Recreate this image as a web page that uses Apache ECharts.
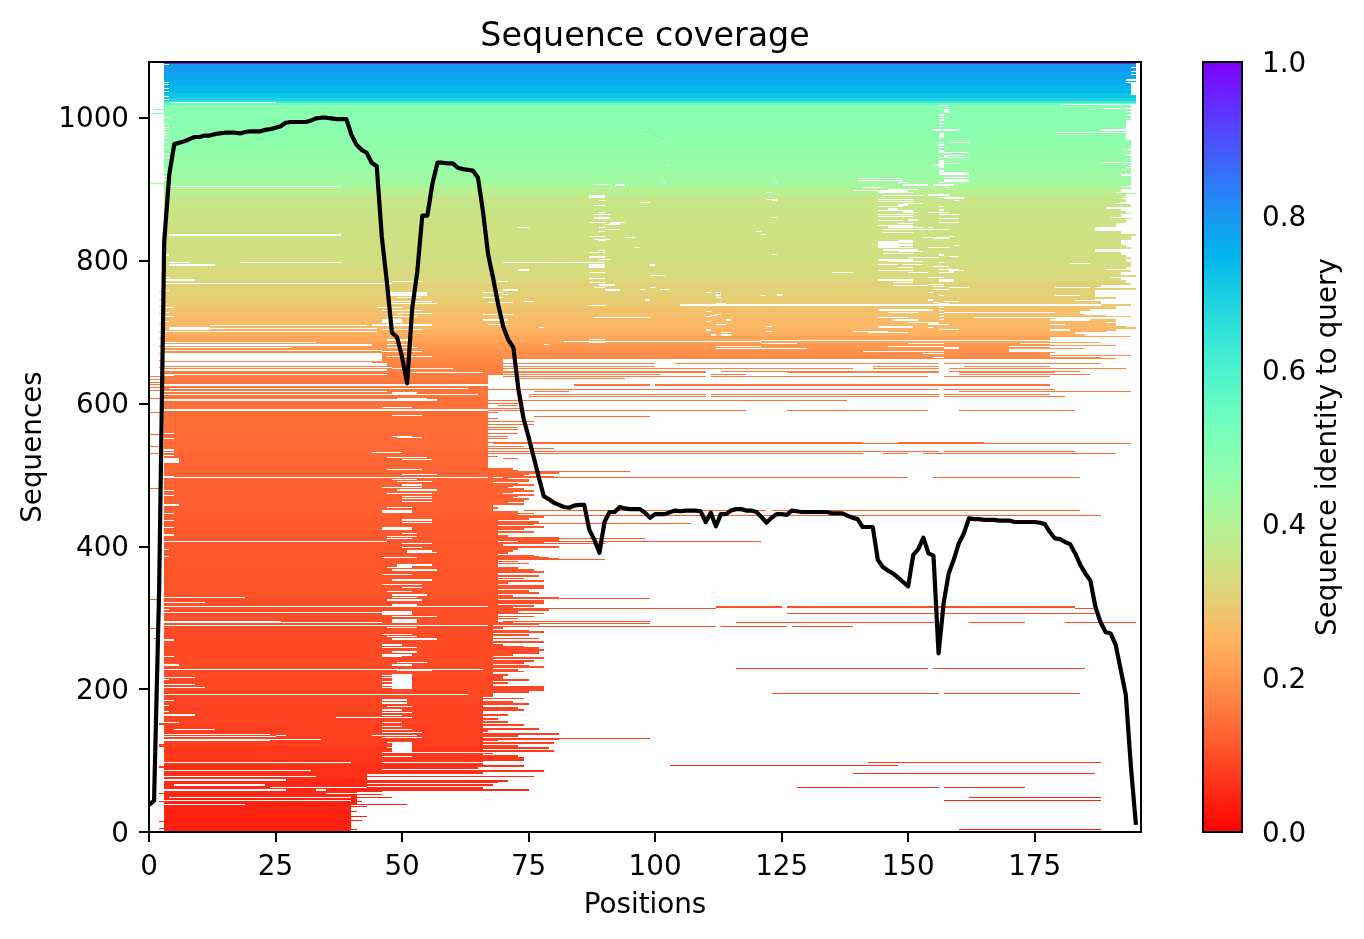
<!DOCTYPE html>
<html><head><meta charset="utf-8">
<style>html,body{margin:0;background:#fff}#c{width:1364px;height:939px}</style>
<script src="https://cdn.jsdelivr.net/npm/echarts@6/dist/echarts.min.js"></script></head>
<body><div id="c"></div>
<script>
const xTicks=[0,25,50,75,100,125,150,175];
const yTicks=[0,200,400,600,800,1000];
const barTicks=[0,0.2,0.4,0.6,0.8,1];
const rainbowStops=['#ff0000','#ff2814','#ff4f28','#ff743b','#ff964f','#ffb462','#e6ce74','#cce385','#b3f296','#99fca6','#80ffb4','#66fcc2','#4df2ce','#33e3da','#1acee3','#00b4ec','#1a96f2','#3374f8','#4d4ffc','#6628fe','#8000ff'];
// coverage curve: non-gap count at each position 0..195
const coverage=[38,44,338,826,920,963,965,967,970,973,973,975,975,977,978,979,979,979,978,980,981,981,981,983,984,986,988,993,994,994,994,994,996,999,1000,1000,999,998,998,998,976,962,955,951,937,932,833,770,699,693,665,628,733,784,863,863,908,937,937,936,936,930,928,927,926,916,868,809,775,738,707,689,678,619,579,553,525,497,470,466,461,458,455,454,457,458,458,423,409,391,434,448,448,455,453,452,452,452,447,440,445,445,445,448,450,449,450,450,450,449,434,447,428,445,445,450,452,452,450,450,448,441,433,440,445,445,444,450,449,448,448,448,448,448,448,446,446,446,443,440,438,427,427,427,381,371,366,362,356,350,344,388,396,412,390,387,250,320,362,381,404,418,439,438,438,437,437,437,436,436,436,434,434,434,434,434,433,431,420,411,410,406,403,390,374,362,352,315,294,280,278,262,227,192,92,10];
// identity of sequences: [lowest row of the band, identity]
const rowIdentity=[[0,.04],[25,.045],[50,.05],[75,.06],[95,.07],[120,.08],[150,.085],[180,.09],[220,.095],[280,.1],[330,.105],[370,.11],[410,.115],[440,.12],[470,.125],[500,.13],[530,.135],[560,.14],[590,.145],[610,.15],[630,.16],[645,.17],[655,.18],[665,.19],[675,.205],[685,.225],[695,.245],[705,.26],[720,.275],[735,.295],[750,.31],[770,.325],[790,.34],[820,.345],[850,.35],[870,.36],[890,.385],[900,.41],[905,.435],[915,.445],[930,.455],[945,.465],[960,.472],[975,.478],[990,.482],[1005,.485],[1018,.55],[1021,.63],[1024,.69],[1028,.72],[1035,.745],[1045,.76],[1055,.775],[1065,.79],[1076,.96]];
// solid blocks: [rowLow,rowHigh,xStart,xEnd]
const solidBlocks=[[1020,1078,3,195],[905,1020,3,194],[745,905,3,187],[662,745,3,178],[640,662,3,70],[510,640,3,67],[450,510,3,68],[437,450,3,73],[295,437,3,69],[190,295,3,68],[98,190,3,66],[85,98,3,46],[60,85,3,43],[40,60,3,41],[0,40,3,40]];
// right-hand ends of the rows beyond the blocks: [row,xEnd]
const upperEnds=[[694,194],[695,185],[697,183],[700,189],[702,191],[705,195],[707,193],[709,191],[712,189],[714,191],[718,179],[721,194],[722,189],[724,185],[725,184],[728,184],[730,186],[732,191],[735,191],[737,194],[739,188],[741,188],[744,183],[745,187],[747,191],[749,187],[752,187],[754,183],[756,184],[759,195],[761,184],[763,188],[766,194],[768,193],[770,193],[773,192],[775,190],[777,195],[780,192],[782,192],[784,194],[787,189],[789,193],[791,194],[794,194],[796,194],[798,193],[801,193],[803,194],[805,193],[808,192],[810,192],[812,187],[815,187],[817,194],[819,193],[822,192],[824,192],[826,192],[829,194],[831,194],[833,194],[835,195],[837,192],[839,192],[841,187],[844,187],[846,187],[848,191],[851,191],[853,193],[855,193],[858,194],[860,190],[862,192],[865,194],[867,193],[869,192],[872,189],[874,189],[876,194],[879,191],[881,192],[883,193],[886,192],[888,193],[890,193],[893,195],[895,191],[897,192],[900,194],[903,192]];
const coreEnds=[[58,75],[61,66],[65,68],[69,69],[71,71],[77,76],[82,66],[85,78],[89,65],[92,74],[94,66],[100,74],[103,74],[106,73],[109,68],[113,80],[117,79],[120,73],[124,80],[128,69],[129,81],[134,73],[136,81],[141,67],[143,77],[144,69],[149,74],[153,71],[157,69],[163,71],[167,66],[170,74],[173,73],[178,75],[181,72],[186,74],[189,67],[195,75],[198,78],[201,78],[203,78],[205,68],[208,71],[212,75],[213,70],[216,70],[219,71],[224,74],[226,73],[230,78],[232,75],[236,74],[239,76],[243,78],[247,72],[250,77],[252,77],[254,78],[257,77],[259,74],[261,70],[265,78],[270,77],[275,75],[279,78],[281,75],[285,70],[287,74],[290,77],[292,72],[298,73],[301,76],[305,78],[307,73],[310,79],[313,72],[316,76],[320,78],[323,78],[327,81],[330,72],[334,77],[337,75],[341,78],[344,78],[348,71],[351,78],[354,74],[358,77],[363,78],[366,76],[369,73],[375,75],[378,73],[381,81],[383,79],[385,77],[386,76],[390,71],[393,72],[395,73],[398,81],[401,70],[404,78],[408,81],[411,81],[414,71],[419,76],[423,74],[426,78],[430,76],[433,77],[437,75],[440,78],[445,76],[453,69],[458,74],[461,71],[463,74],[465,75],[467,72],[469,73],[471,76],[473,70],[475,72],[477,76],[479,74],[481,71],[483,72],[485,76],[487,73],[490,75],[492,75],[494,71],[497,80],[498,74],[500,75],[502,81],[503,70],[505,73],[507,72]];
// single sequences outside the blocks: [row,xStart,xEnd,rows]
const looseLines=[[685,178,188],[681,178,191],[676,178,185],[671,178,179],[667,178,194],[664,178,188],[662,178,191],
[656,70,100],[656,104,156],[656,157,188],[652,70,100],[652,143,156],[652,161,178],[649,70,139],[649,143,156],[649,158,193],
[645,70,110],[645,113,156],[645,158,184],[643,70,110],[643,126,156],[643,160,179],[640,70,101],[640,111,118],[640,160,186],[637,70,110],[637,111,154],[637,157,178],[635,73,94],
[625,84,99,2],[625,100,178,2],[619,67,156],[619,157,179],[616,76,83],[616,160,194],[612,75,110],[612,111,156],[612,157,178],[609,75,110],[609,111,156],[609,157,181],[604,67,138],
[600,67,74],[597,69,73],[593,67,74],[590,67,118],[590,126,154],[590,160,183],[587,67,69],[582,76,99],[578,67,69,2],[574,67,76],[570,67,76],[566,67,73],[563,67,73],[558,67,73],[553,67,71],[550,67,71],
[545,67,141],[545,148,165],[543,68,194],[540,67,74],[536,67,80],[533,67,156],[533,157,183],[529,67,141],[529,145,150],[529,153,191],[525,67,69],[522,70,73],[518,67,71],[511,67,73],
[505,70,95],[496,70,150],[496,155,184],[450,74,122],[450,123,184],[443,73,188],[432,73,107],[411,73,98],[406,73,121],[406,90,103,2],[404,73,90],[381,74,90],
[327,70,99],[314,112,125,2],[314,126,183,2],[313,70,112],[313,183,187],[306,126,187],[295,70,99],[293,116,156],[293,162,173],[293,181,195],[292,70,99],[288,70,112],[288,113,126],[288,127,139],
[228,116,154],[228,155,185],[193,123,156],[193,157,184],[137,66,80],[130,66,99],
[97,142,188],[93,103,148],[81,139,187],[62,128,156],[62,157,173],[59,41,75],[56,41,46],[52,41,46],[48,41,48],[48,162,188],[44,157,188],[42,40,42],[38,40,51],[35,40,43],[28,40,41],[21,40,43],[16,40,42],[3,40,41],[3,160,188],
[1006,0,3],[1011,1,3],[907,0,3],[637,0,3],[633,0,3],[629,0,3],[626,0,3],[622,0,3],[618,0,3],[607,0,3],[587,0,3],[556,0,3],[540,0,3],[530,0,3],[480,0,2],[325,0,2],[284,0,2],[271,1,2],[53,2,3],[43,2,3],[14,2,3],[5,2,3],[757,2,3],[745,2,3],[735,2,3],[725,2,3],[712,2,3],[700,2,3],[690,2,3],[680,2,3],[670,2,3],[660,2,3],[650,2,3],[150,2,3,3],[120,2,3,3],[90,2,3,3]];
// holes inside the blocks: [row,xStart,xEnd,rows]
const holes=[[1021,4,25],[1074,3,4],[1049,3,4],[1046,3,4],[1040,3,4],[1036,3,4],[1029,3,4],[1025,3,4],[1000,3,4],[990,3,4],[986,3,4],[983,3,4],[979,3,4],[976,3,4],[971,3,4],[964,3,4],[957,3,4],[948,3,4],[943,3,4],[923,3,4],[917,3,4],[913,3,4],
[903,4,38],[835,4,38],[807,3,4],[796,4,8],[796,18,38],[793,4,13],[767,3,48],[776,3,4],[772,3,9],[757,3,4],[733,3,5],[726,3,4],[721,3,5],[714,3,4],[703,4,12,5],[708,12,43],[700,3,45],[704,12,45],[685,3,33],[681,3,44],[677,3,28],[673,3,46],
[770,48,54],[750,47,55,6],[747,49,54],[742,47,56],[739,48,57],[734,45,50],[729,46,54],[725,49,56],[721,47,53],[712,46,50,6],[709,44,56],[703,46,54],[688,47,52],[682,47,51],[677,47,53],[672,46,54],[665,47,56],
[770,69,71],[755,66,70],[758,70,73],[752,70,71],[748,66,70],[740,67,72,3],[742,74,76],[724,66,72],[716,66,71],[710,67,71],[705,77,78],[682,78,79],[846,73,75],[796,70,87],[786,73,75],
[906,88,91],[905,92,94],[890,87,90],[888,87,90],[883,89,90],[876,88,90],[867,89,90],[864,88,91],[858,88,91,3],[853,87,90],[852,91,94],[850,90,93],[845,89,90],[843,90,93],[840,89,90],[833,87,90],[829,88,91],[827,89,90],[813,89,90],[810,87,90],[804,87,90,3],[801,89,91],[797,87,90],[790,87,90,5],[783,87,90],[774,87,90],[769,87,90],[765,89,92],[762,88,90],[758,90,93],[736,87,90],[720,88,99],[689,87,90],[684,87,90],
[976,98,99],[967,101,102],[932,102,103],[908,101,102],[880,97,99],[831,94,96],[818,96,97],[793,99,100],[778,99,102],[761,99,100],[759,101,103],[759,97,98],[744,98,99],
[755,112,113],[754,110,111],[751,112,113],[748,112,113],[739,112,114],[728,110,111],[724,112,113],[722,111,112],[721,110,111],[716,114,115],[714,110,111],[710,112,114],[702,110,111],[699,113,115],[696,113,115],[694,111,112,3],[694,113,115],
[908,123,124],[895,122,123],[885,122,123],[884,123,124],[860,123,124],[840,120,121],[836,121,122],[808,123,124],[750,121,122],[751,124,125],[707,122,123],[700,122,123],[782,135,139],[737,105,188],[686,82,121],
[914,140,149],[911,140,149],[908,148,150],[905,149,154],[901,141,145],[899,146,152],[897,139,145],[897,143,150],[894,144,151,3],[890,145,153],[885,144,151],[882,144,151],[879,149,153],[877,148,150],[875,144,149],[871,146,148,3],[869,144,151],[867,149,152],[864,144,151],[861,144,151],[856,150,152],[855,144,149],[851,148,151],[848,144,151],[846,146,153],[843,145,153],[839,145,151],
[818,144,148,10],[827,148,151],[825,148,151],[821,144,151],[818,144,151],[814,145,152],[812,148,153],[809,145,151],[803,150,154],[800,144,151],[798,146,153],[794,144,148],[794,149,153],[789,148,151],[785,144,151],[782,150,154],[772,144,151],[769,147,151],[764,147,154],
[1016,156,158],[1006,157,158,7],[1003,156,157],[1000,156,158],[996,156,157],[991,156,157],[987,156,157],[982,155,160],[971,156,157,8],[965,156,157],[965,158,162],[961,156,157],[957,156,158],[950,156,157,5],[950,157,162],[946,157,161],[944,156,158],[943,158,162],[929,156,157,12],[935,157,160],[933,155,156],[920,156,157,7],[920,157,162,5],[916,157,162],[912,157,162],[910,157,162],[908,156,157],[905,155,159],[902,157,158],
[891,154,158],[888,156,161],[886,157,161],[883,159,160],[875,156,157],[870,156,157],[867,154,158],[864,156,160],[858,156,160],[853,156,160],[846,154,155],[843,153,158],[830,155,158,4],[833,158,159],[831,153,155],[817,154,158],[820,159,160],[807,156,157],[805,158,160],[803,154,156,3],[796,156,157],[791,155,158],[787,156,160],[785,158,161],[783,156,159],[776,156,157],[775,154,156],[772,156,159],[770,156,159],[766,154,157],[763,155,157],[761,158,162],[759,155,158],[755,154,155],[750,156,157],[744,154,155],[741,155,156],[742,157,160],[739,156,158],[733,156,157],[729,156,157],[725,156,157],[721,156,157],[717,156,157],[710,154,158],[706,154,155],[703,156,157],[703,157,160],
[730,144,155],[727,146,152],[727,157,179],[719,163,179],[719,144,150],[716,147,152],[712,150,156],[707,144,151],[705,144,151],[700,139,146],[698,142,150],[663,155,157],
[1018,180,194],[1012,188,194],[979,179,194],[982,188,194],[936,188,194],[927,192,193],[1008,193,194],[1003,193,194],[969,193,194,28],[955,192,194],[947,193,194],[929,193,194],[919,192,194],[1070,194,195],[1064,194,195],[1060,194,195],[1052,193,195],[1048,193,195],[1032,194,195,18],
[687,121,195,2],[683,121,128],[683,150,157],[683,172,178],[679,112,121],[679,146,157],[679,170,178],[676,112,130],[676,157,160,4],[674,170,178],[672,141,157],[672,170,178],[669,153,157],[795,182,186],[761,179,186],[750,179,184],[702,178,182],[710,178,181],[716,178,186],
[625,3,67],[620,4,63],[616,3,47],[612,3,65],[604,3,57],[590,3,67],[655,3,47],[657,3,44],[654,3,47],[652,3,47],[649,3,48],[645,3,47,3],[640,3,47],[638,3,5],[660,3,46,11],
[614,48,53],[606,49,55],[593,46,52],[582,48,54],[553,48,52],[551,49,54],[531,44,50],[524,47,55],[521,50,56],[507,47,54],[500,50,57],[496,3,67],[493,48,53],[490,49,56],[485,50,54],[482,46,54],[478,49,57],[473,47,52],[473,50,56],[469,50,56],[466,50,56],[462,50,56],[454,47,52],[446,46,52,5],[436,50,56],[432,50,56],[423,46,52,4],[417,50,53],[413,47,53],[410,47,52],[406,3,47],[403,50,56],[397,50,54],[391,51,56,4],[390,52,57],[383,46,53],[372,49,56,4],[370,47,52],[366,48,57],[360,46,52],[352,48,56],[346,46,54],[341,50,54],
[336,47,52],[331,48,55],[327,48,53],[324,47,54],[317,48,53],[304,46,52,6],[301,48,57],[292,48,53,6],[285,47,53],[276,46,52],[273,47,53],[269,48,57,3],[261,46,50],[258,46,53],[251,48,53,3],[247,46,52],[245,46,50],[237,49,55],[233,48,52],[225,49,56],[218,46,50],[215,46,49],[210,46,49],[205,46,49],[201,46,49],[200,48,52,22],[184,46,51],[179,46,51,3],[175,47,52],[170,46,50],[166,46,52],[162,46,50],[159,37,52],[153,46,50],[147,46,50],[143,46,52],[138,46,54],[134,44,53],[131,46,54],[110,48,52,16],[124,47,48],[117,47,48],[110,52,56],[105,46,52],
[648,48,60],[642,52,66],[630,67,70],[625,67,70],[510,67,73,9],
[327,3,19],[320,3,11],[315,3,67],[311,3,4],[306,3,46],[293,3,26,3],[293,26,46],[288,3,67],[268,3,5],[245,3,5],[233,3,6],[227,3,66],[216,3,9],[213,3,4],[206,3,9],[202,3,11],[192,3,63],[183,3,5],[176,3,4],[168,3,4],[163,3,9],[152,3,6],[143,5,13],[136,3,24],[134,25,27],[133,3,25],[129,24,34],[128,3,24],[110,46,66,2],[97,3,35],[96,35,40],[85,3,32],[77,3,33],[72,3,27],[65,5,23],[62,24,43],[58,3,27],[58,33,35],[53,35,41],[48,4,40],[43,3,40],[38,3,19],
[557,3,5],[550,3,5],[534,3,5],[530,3,5],[526,3,5],[516,3,6,8],[497,3,5],[477,3,5],[470,3,5],[457,3,6],[445,3,5],[435,3,5],[425,3,5],[415,3,5],[395,3,4],[385,3,4]];

// raster of the alignment: one Uint8Array per sequence
const nRows=1078,nCols=196;
const mask=Array.from({length:nRows},()=>new Uint8Array(nCols));
function paint(r0,r1,x0,x1,v){for(let r=Math.max(0,r0);r<Math.min(nRows,r1);r++)for(let x=x0;x<x1;x++)mask[r][x]=v;}
solidBlocks.forEach(b=>paint(b[0],b[1],b[2],b[3],1));
upperEnds.forEach((e,i)=>{const n=upperEnds[i+1];paint(e[0],n?n[0]:e[0]+2,170,e[1],1);});
coreEnds.forEach(e=>paint(e[0],e[0]+2,e[0]<98?40:60,e[1],1));
looseLines.forEach(l=>paint(l[0],l[0]+(l[3]||1),l[1],l[2],1));
holes.forEach(h=>{if(h[2]>h[1])paint(h[0],h[0]+(h[3]||2),h[1],h[2],0);});
function identityOf(r){let v=rowIdentity[0][1];for(const b of rowIdentity){if(r>=b[0])v=b[1];}return v;}
const runs=[];
for(let r=0;r<nRows;r++){let s=-1;for(let x=0;x<=nCols;x++){const on=x<nCols&&mask[r][x];if(on&&s<0)s=x;if(!on&&s>=0){runs.push([r,s,x,identityOf(r)]);s=-1;}}}

const F='"DejaVu Sans"',FS=27.8;
const chart=echarts.init(document.getElementById('c'),null,{renderer:'canvas'});
const tickStyle={length:10,lineStyle:{color:'#000',width:2}};
const textBase={fontFamily:F,fontSize:FS,color:'#000'};
const yLabel={...textBase,margin:20,verticalAlignMinLabel:'middle',verticalAlignMaxLabel:'middle',rich:{a:{...textBase,padding:[5,0,0,0]}}};
chart.setOption({
animation:false,
title:{text:'Sequence coverage',left:640,top:16,textAlign:'center',textStyle:{fontFamily:F,fontSize:33.3,fontWeight:'normal',color:'#000'}},
visualMap:{show:false,seriesIndex:0,dimension:3,min:0,max:1,inRange:{color:rainbowStops}},
grid:[{left:149,top:62,width:992,height:770,show:true,z:10,borderColor:'#000',borderWidth:2,backgroundColor:'transparent'},
      {left:1203,top:62,width:39,height:770,show:true,z:10,borderColor:'#000',borderWidth:2,backgroundColor:'transparent'}],
xAxis:[{gridIndex:0,type:'value',min:0,max:196,name:'Positions',nameLocation:'middle',nameGap:60,nameTextStyle:textBase,
  splitLine:{show:false},axisLine:{show:false},axisTick:{...tickStyle,customValues:xTicks},axisLabel:{...textBase,margin:22,alignMinLabel:'center',customValues:xTicks}},
  {gridIndex:1,type:'value',min:0,max:1,show:false}],
yAxis:[{gridIndex:0,type:'value',min:0,max:1078,name:'Sequences',nameLocation:'middle',nameGap:99,nameTextStyle:textBase,
  splitLine:{show:false},axisLine:{show:false},axisTick:{...tickStyle,customValues:yTicks},axisLabel:{...yLabel,customValues:yTicks,formatter:v=>'{a|'+v+'}'}},
  {gridIndex:1,type:'value',min:0,max:1,position:'right',name:'Sequence identity to query',nameLocation:'middle',nameGap:73,nameRotate:90,nameTextStyle:textBase,
  splitLine:{show:false},axisLine:{show:false},axisTick:{...tickStyle,customValues:barTicks},axisLabel:{...yLabel,customValues:barTicks,formatter:v=>'{a|'+v.toFixed(1)+'}'}}],
series:[
{type:'custom',xAxisIndex:0,yAxisIndex:0,silent:true,progressive:0,clip:true,data:runs,encode:{x:[1,2],y:0},
 renderItem(p,api){
  const r=api.value(0),x0=api.coord([api.value(1),r])[0],x1=api.coord([api.value(2),r])[0];
  const yb=Math.round(api.coord([0,r])[1]),yt=Math.round(api.coord([0,r+1])[1]);
  return {type:'rect',shape:{x:Math.round(x0),y:yt,width:Math.round(x1)-Math.round(x0),height:Math.max(1,yb-yt)},style:{fill:api.visual('color')}};
 }},
{type:'line',xAxisIndex:0,yAxisIndex:0,data:coverage.map((v,i)=>[i,v]),showSymbol:false,silent:true,z:5,clip:true,lineStyle:{color:'#000',width:4.2,join:'round'}},
{type:'custom',xAxisIndex:1,yAxisIndex:1,silent:true,data:[[0,1]],
 renderItem(p,api){
  const a=api.coord([0,1]),b=api.coord([1,0]);
  const stops=rainbowStops.map((c,i)=>({offset:i/(rainbowStops.length-1),color:c}));
  return {type:'rect',shape:{x:a[0],y:a[1],width:b[0]-a[0],height:b[1]-a[1]},style:{fill:new echarts.graphic.LinearGradient(0,1,0,0,stops)}};
 }}
]});
</script></body></html>
